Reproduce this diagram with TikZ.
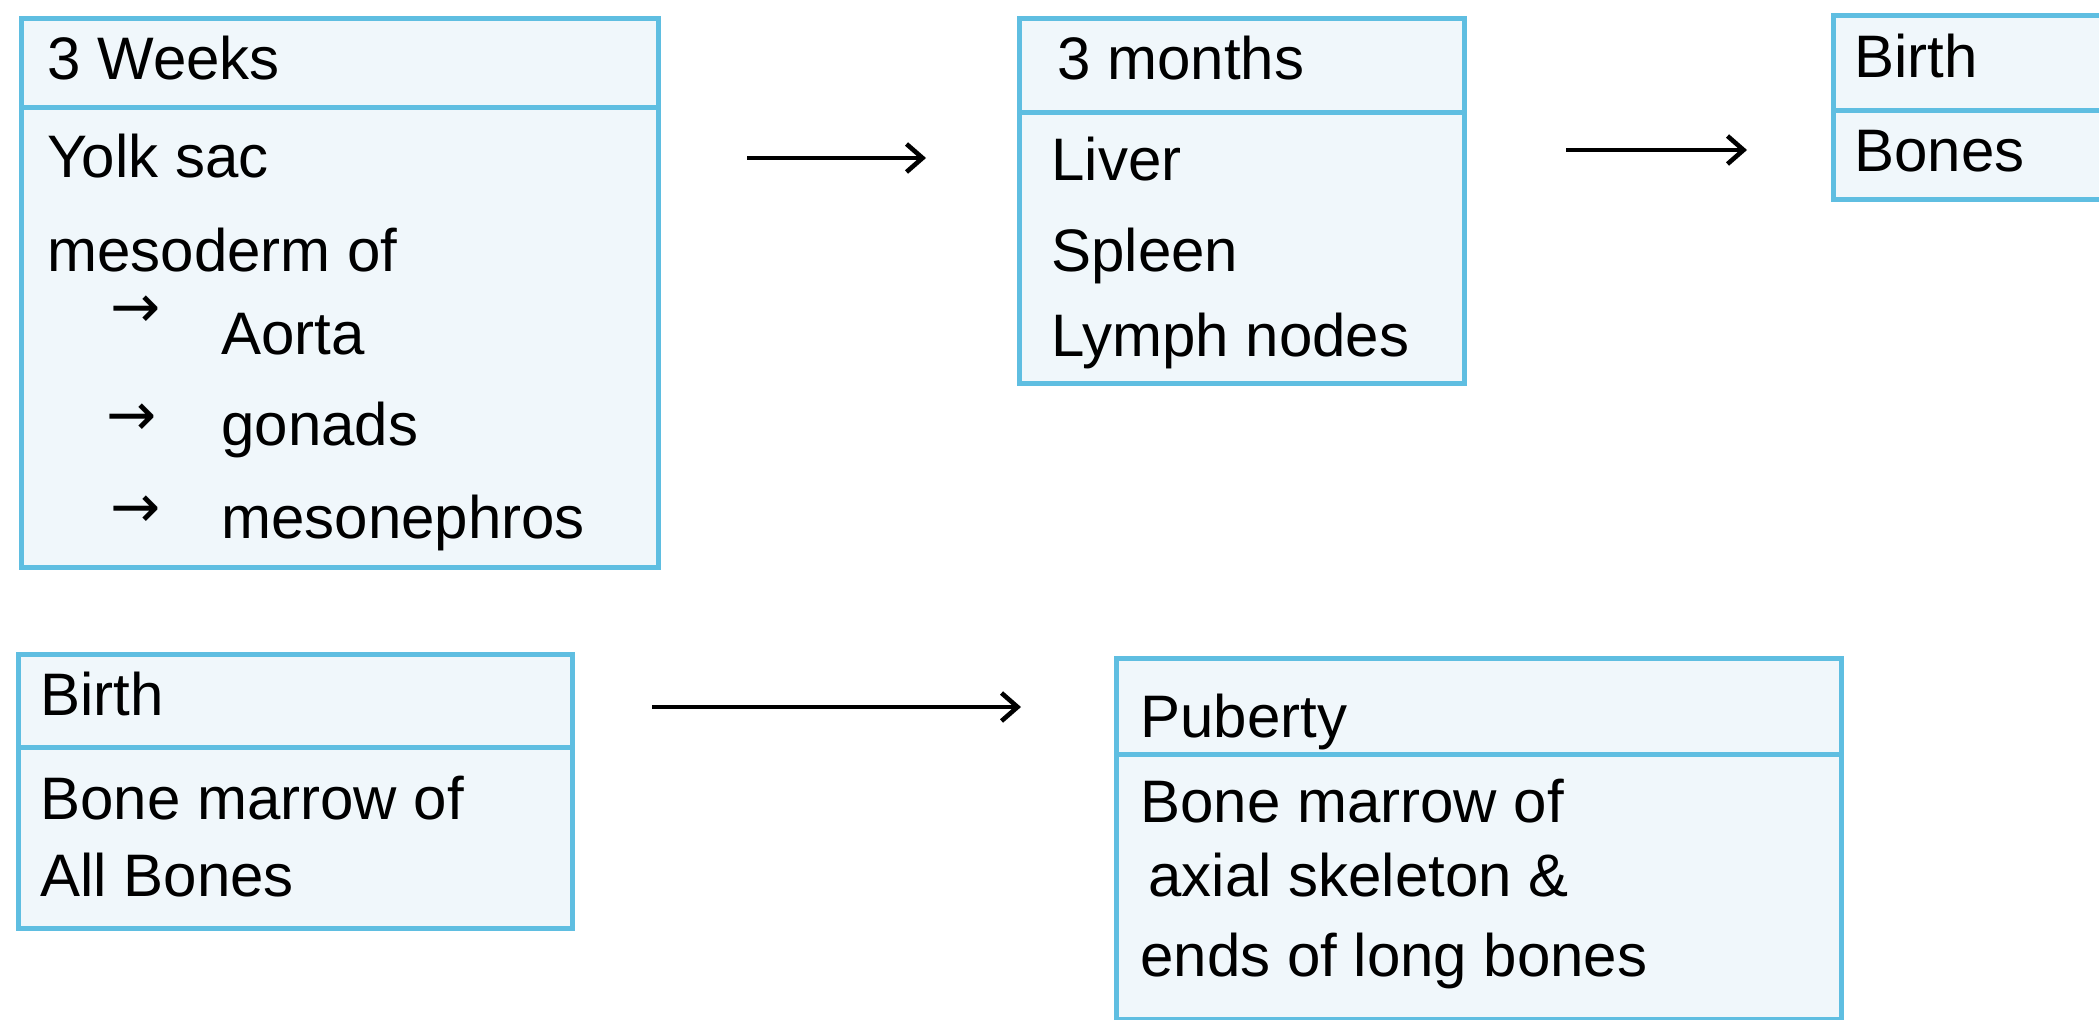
\documentclass[tikz,border=0pt]{standalone}
\usepackage{fontspec}
\setmainfont{Liberation Sans}
\newfontfamily\symfont{DejaVu Sans}
\usetikzlibrary{arrows.meta}
\definecolor{boxline}{RGB}{95,190,225}
\definecolor{boxfill}{RGB}{240,247,251}
\tikzset{
  box/.style={draw=boxline, fill=boxfill, line width=2.5pt, inner sep=0pt, anchor=north west},
  divline/.style={draw=boxline, line width=2.5pt},
  txt/.style={anchor=west, inner sep=0pt, font=\fontsize{30}{36}\selectfont, text height=0.72em, text depth=0.22em},
  sym/.style={anchor=west, inner sep=0pt, font=\symfont\fontsize{30}{36}\selectfont},
  arr/.style={line width=2.3pt, -{Straight Barb[length=8pt, width=14pt]}}
}
\begin{document}
\begin{tikzpicture}[x=0.5pt, y=-0.5pt]
\clip (0,0) rectangle (2099,1019);
\fill[white] (0,0) rectangle (2099,1019);

% Box 1: 3 Weeks
\node[box, minimum width=318.5pt, minimum height=274.5pt] (b1) at (19,16) {};
\draw[divline] (b1.west |- 0,107) -- (b1.east |- 0,107);
\node[txt] (b1h) at (47,74) {3 Weeks};
\node[txt] (b1l1) at (47,172) {Yolk sac};
\node[txt] (b1l2) at (47,266) {mesoderm of};
\node[sym] (b1a1) at (110,312) {→};
\node[txt] (b1l3) at (221,349) {Aorta};
\node[sym] (b1a2) at (106,420) {→};
\node[txt] (b1l4) at (221,440) {gonads};
\node[sym] (b1a3) at (110,512) {→};
\node[txt] (b1l5) at (221,533) {mesonephros};

% Box 2: 3 months
\node[box, minimum width=222.5pt, minimum height=182.5pt] (b2) at (1017,16) {};
\draw[divline] (b2.west |- 0,112) -- (b2.east |- 0,112);
\node[txt] (b2h) at (1057,74) {3 months};
\node[txt] (b2l1) at (1051,175) {Liver};
\node[txt] (b2l2) at (1051,266) {Spleen};
\node[txt] (b2l3) at (1051,351) {Lymph nodes};

% Box 3: Birth (top right)
\node[box, minimum width=139.5pt, minimum height=92pt] (b3) at (1831,13) {};
\draw[divline] (b3.west |- 0,110) -- (b3.east |- 0,110);
\node[txt] (b3h) at (1854,72) {Birth};
\node[txt] (b3l1) at (1854,166) {Bones};

% Box 4: Birth (bottom left)
\node[box, minimum width=277pt, minimum height=137pt] (b4) at (16,652) {};
\draw[divline] (b4.west |- 0,747) -- (b4.east |- 0,747);
\node[txt] (b4h) at (40,710) {Birth};
\node[txt] (b4l1) at (40,814) {Bone marrow of};
\node[txt] (b4l2) at (40,891) {All Bones};

% Box 5: Puberty
\node[box, minimum width=362.5pt, minimum height=180.5pt] (b5) at (1114,656) {};
\draw[divline] (b5.west |- 0,754) -- (b5.east |- 0,754);
\node[txt] (b5h) at (1140,732) {Puberty};
\node[txt] (b5l1) at (1140,817) {Bone marrow of};
\node[txt] (b5l2) at (1148,891) {axial skeleton \&};
\node[txt] (b5l3) at (1140,971) {ends of long bones};

% Arrows
\coordinate (a1s) at (747,158);
\coordinate (a1e) at (926,158);
\coordinate (a2s) at (1566,150);
\coordinate (a2e) at (1747,150);
\coordinate (a3s) at (652,707);
\coordinate (a3e) at (1021,707);
\draw[arr] (a1s) -- (a1e);
\draw[arr] (a2s) -- (a2e);
\draw[arr] (a3s) -- (a3e);
\end{tikzpicture}
\end{document}
